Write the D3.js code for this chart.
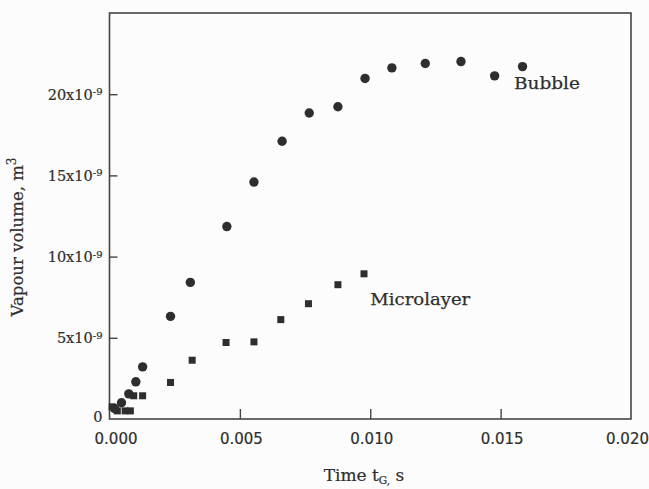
<!DOCTYPE html>
<html><head><meta charset="utf-8">
<script src="https://cdn.jsdelivr.net/npm/d3@7"></script>
<style>body{margin:0;background:#fcfcfc;}svg{display:block;}</style>
</head><body>
<script>
// Data (time in s, volume in units of 1e-9 m^3)
const bubbleT = [0.00019,0.00046,0.00074,0.00101,0.00127,0.00234,0.0031,0.0045,0.00554,0.00662,0.00766,0.00876,0.0098,0.01083,0.01211,0.01348,0.01477,0.01584];
const bubbleV = [0.65,1.0,1.55,2.29,3.21,6.32,8.41,11.85,14.59,17.1,18.84,19.23,20.97,21.62,21.89,22.01,21.13,21.7];
const microT = [0.0001,0.0003,0.0006,0.0008,0.00093,0.00127,0.00234,0.00317,0.00447,0.00554,0.00657,0.00763,0.00876,0.00976];
const microV = [0.75,0.5,0.5,0.5,1.43,1.43,2.25,3.62,4.71,4.75,6.12,7.1,8.27,8.94];
const xTicks = [0, 0.005, 0.010, 0.015, 0.020];
const xTickLabels = ["0.000","0.005","0.010","0.015","0.020"];
const yTicks = [0, 5, 10, 15, 20];
const yTickLabels = ["0","5x10","10x10","15x10","20x10"];
const yTickExp = ["","-9","-9","-9","-9"];
const seriesLabels = ["Bubble","Microlayer"];

const W = 649, H = 489;
const m = {left:109.5, right:649-631, top:13, bottom:489-419};
const svg = d3.select("body").append("svg").attr("width",W).attr("height",H);
const x = d3.scaleLinear().domain([0,0.02]).range([m.left, W-m.right]);
const y = d3.scaleLinear().domain([0,25]).range([H-m.bottom, m.top]);
const ink = "#2e2e2e";
const serif = "'DejaVu Serif', serif";

// frame
svg.append("rect").attr("x",x(0)).attr("y",y(25)).attr("width",x(0.02)-x(0)).attr("height",y(0)-y(25))
  .attr("fill","none").attr("stroke","#444").attr("stroke-width",1.6);

// x axis (inward ticks)
const xAxis = d3.axisBottom(x).tickValues(xTicks).tickSize(-10).tickPadding(14)
  .tickFormat((d,i)=>xTickLabels[i]);
const gx = svg.append("g").attr("transform",`translate(0,${y(0)})`).call(xAxis);
gx.select(".domain").remove();
gx.selectAll(".tick line").attr("stroke","#444").attr("stroke-width",1.4)
  .attr("display",(d,i)=> (i===0||i===xTicks.length-1)?"none":null);
gx.selectAll(".tick text").attr("fill",ink).style("font-family","'DejaVu Sans', sans-serif").style("font-size","15px")
  .attr("stroke",ink).attr("stroke-width",0.2)
  .attr("dx",(d,i)=> i===0?6:(i===xTicks.length-1?-4:1));

// y axis (inward ticks)
const yAxis = d3.axisLeft(y).tickValues(yTicks).tickSize(-8).tickPadding(8).tickFormat("");
const gy = svg.append("g").attr("transform",`translate(${x(0)},0)`).call(yAxis);
gy.select(".domain").remove();
gy.selectAll(".tick line").attr("stroke","#444").attr("stroke-width",1.4)
  .attr("display",(d,i)=> i===0?"none":null);
gy.selectAll(".tick").each(function(d,i){
  const t = d3.select(this).append("text").attr("x",-7).attr("dy",i===0?"0.2em":"0.35em")
    .attr("text-anchor","end").attr("fill",ink).attr("stroke",ink).attr("stroke-width",0.2)
    .style("font-family",serif).style("font-size","14.5px");
  t.append("tspan").text(yTickLabels[i]);
  if (yTickExp[i]) t.append("tspan").attr("dy","-0.45em").style("font-size","10px").text(yTickExp[i]);
});

// marks
svg.append("g").selectAll("circle").data(bubbleT).join("circle")
  .attr("cx",(d)=>x(d)).attr("cy",(d,i)=>y(bubbleV[i])).attr("r",4.7).attr("fill",ink);
svg.append("g").selectAll("rect").data(microT).join("rect")
  .attr("x",(d)=>x(d)-3.5).attr("y",(d,i)=>y(microV[i])-3.5).attr("width",7).attr("height",7).attr("fill",ink);

// series labels
svg.append("text").attr("x",x(0.01551)).attr("y",y(20.3)).attr("fill",ink).attr("stroke",ink).attr("stroke-width",0.25)
  .attr("textLength",66).attr("lengthAdjust","spacingAndGlyphs")
  .style("font-family",serif).style("font-size","17.5px").text(seriesLabels[0]);
svg.append("text").attr("x",x(0.01)).attr("y",y(7.05)).attr("fill",ink).attr("stroke",ink).attr("stroke-width",0.25)
  .attr("textLength",100).attr("lengthAdjust","spacingAndGlyphs")
  .style("font-family",serif).style("font-size","17.5px").text(seriesLabels[1]);

// axis titles
const xt = svg.append("text").attr("x",364).attr("y",481).attr("text-anchor","middle").attr("fill",ink)
  .attr("stroke",ink).attr("stroke-width",0.2)
  .style("font-family",serif).style("font-size","17px");
xt.append("tspan").text("Time t");
xt.append("tspan").attr("dy","3").style("font-size","10.5px").text("G,");
xt.append("tspan").attr("dy","-3").text(" s");

const yt = svg.append("text").attr("transform",`translate(23,237) rotate(-90)`).attr("text-anchor","middle").attr("fill",ink)
  .attr("stroke",ink).attr("stroke-width",0.2)
  .style("font-family",serif).style("font-size","16.5px");
yt.append("tspan").text("Vapour volume, m");
yt.append("tspan").attr("dy","-7").style("font-size","12px").text("3");
</script>
</body></html>
